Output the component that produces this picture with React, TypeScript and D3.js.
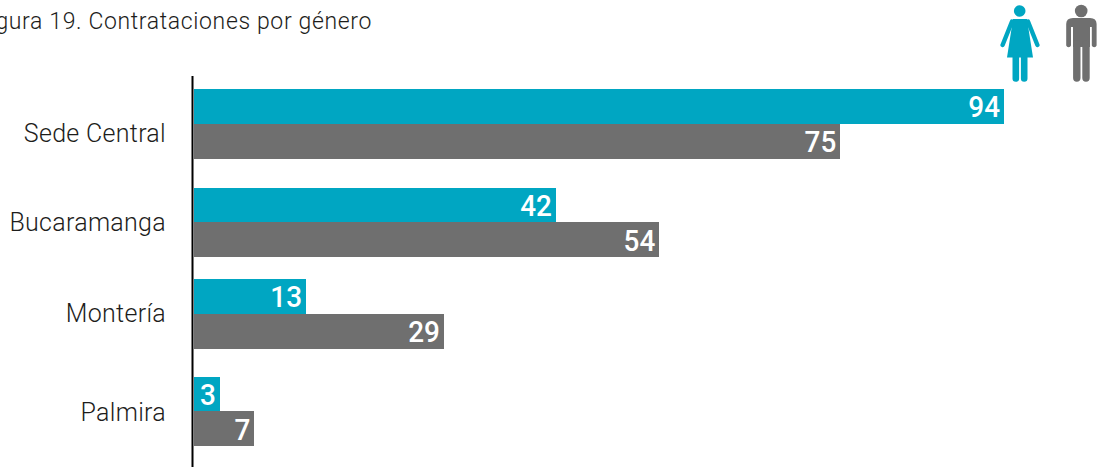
import React from 'react';
import * as d3 from 'd3';

const sedes = ['Sede Central', 'Bucaramanga', 'Montería', 'Palmira'];
const mujeres = [94, 42, 13, 3];
const hombres = [75, 54, 29, 7];

const width = 1099;
const height = 467;
const teal = '#00a6c2';
const gray = '#6f6f6f';
const ink = '#1d1d1b';
const labelFont = 'Roboto, sans-serif';

// row spacing in the reference is not quite even
const rowTop = d3.scaleOrdinal<string, number>().domain(sedes).range([89, 187.6, 279, 376.6]);
const labelY = d3.scaleOrdinal<string, number>().domain(sedes).range([133, 222, 313, 412]);
const x = d3.scaleLinear().domain([0, 94]).range([194, 1004]);
const barH = 34.8;

function Woman() {
  return (
    <g fill={teal} stroke={teal}>
      <circle cx={1019.7} cy={11} r={5.8} stroke="none" />
      <path d="M1013 19H1027L1033 57.5H1007Z" stroke="none" />
      <path d="M1012 21.5L1002.6 45M1028 21.5L1037.4 45" strokeWidth={4.4} strokeLinecap="round" fill="none" />
      <path d="M1015.8 56V78.5M1024.2 56V78.5" strokeWidth={6.6} strokeLinecap="round" fill="none" />
    </g>
  );
}

function Man() {
  return (
    <g fill={gray} stroke={gray}>
      <circle cx={1081.2} cy={11} r={6.3} stroke="none" />
      <path d="M1073 18H1090Q1096.6 18 1096.6 24V45.5A2.5 2.5 0 0 1 1091.8 45.5V27H1090V47H1073V27H1071V45.5A2.5 2.5 0 0 1 1066.2 45.5V24Q1066.2 18 1073 18Z" stroke="none" />
      <path d="M1076.8 44V78M1086 44V78" strokeWidth={7.4} strokeLinecap="round" fill="none" />
    </g>
  );
}

export default function App() {
  const axisRef = React.useRef<SVGGElement>(null);

  React.useEffect(() => {
    const yAxis = d3
      .axisLeft(labelY as any)
      .tickSize(0)
      .tickPadding(0);
    const g = d3.select(axisRef.current);
    g.attr('transform', 'translate(166,0)').call(yAxis as any);
    g.select('.domain').remove();
    g.selectAll('text')
      .attr('font-family', labelFont)
      .attr('font-weight', 300)
      .attr('font-size', 25)
      .attr('letter-spacing', 0.3)
      .attr('fill', ink);
  }, []);

  const series = [
    { values: mujeres, color: teal, offset: 0 },
    { values: hombres, color: gray, offset: barH },
  ];

  return (
    <svg
      width={width}
      height={height}
      style={{ position: 'absolute', left: 0, top: 0, display: 'block', background: '#fff' }}
    >
      <text
        x={372}
        y={29}
        textAnchor="end"
        fontFamily={labelFont}
        fontWeight={300}
        fontSize={23}
        letterSpacing={0.64}
        fill={ink}
      >
        Figura 19. Contrataciones por género
      </text>

      {series.map((s) => (
        <g key={s.color}>
          {sedes.map((sede, i) => (
            <g key={sede}>
              <rect
                x={x(0)}
                y={rowTop(sede) + s.offset}
                width={x(s.values[i]) - x(0)}
                height={barH}
                fill={s.color}
                shapeRendering="crispEdges"
              />
              {/* squeezed a little, the original digits are condensed */}
              <text
                transform={`translate(${x(s.values[i]) - 4},${rowTop(sede) + s.offset + barH / 2}) scale(0.93,1)`}
                dy="0.36em"
                textAnchor="end"
                fontFamily={labelFont}
                fontWeight={500}
                fontSize={30}
                fill="#fff"
              >
                {s.values[i]}
              </text>
            </g>
          ))}
        </g>
      ))}

      <line x1={192.5} x2={192.5} y1={76} y2={467} stroke="#000" strokeWidth={2} />
      <g ref={axisRef} />
      <Woman />
      <Man />
    </svg>
  );
}
